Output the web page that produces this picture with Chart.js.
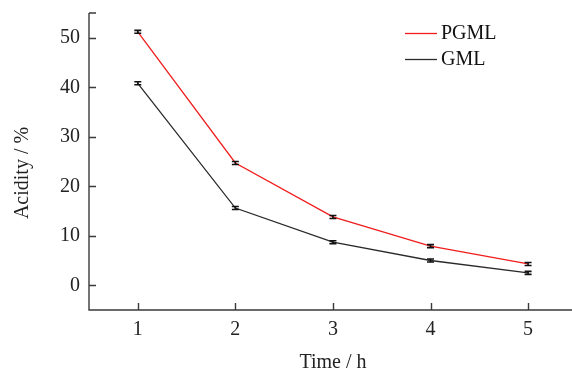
<!DOCTYPE html>
<html><head><meta charset="utf-8">
<script src="https://cdn.jsdelivr.net/npm/chart.js@4/dist/chart.umd.min.js"></script>
<style>html,body{margin:0;padding:0;background:#fff}#wrap{width:572px;height:371px}</style>
</head><body><div id="wrap"><canvas id="c" width="572" height="371"></canvas></div>
<script>
const categories = [1, 2, 3, 4, 5];
const pgml = [51.2, 24.7, 13.8, 7.9, 4.3];
const gml = [40.8, 15.6, 8.7, 5.0, 2.5];
const pgmlErr = [0.3, 0.3, 0.3, 0.3, 0.3];
const gmlErr = [0.3, 0.3, 0.3, 0.3, 0.3];
const yTicks = [0, 10, 20, 30, 40, 50];
const xTicks = [1, 2, 3, 4, 5];
const labels = ['PGML', 'GML'];
const xTitle = 'Time / h';
const yTitle = 'Acidity / %';

const FONT = '"Liberation Serif", "Times New Roman", serif';
const AXIS = '#3a3a3a';

const extras = {
  id: 'extras',
  afterDatasetsDraw(chart) {
    const ctx = chart.ctx, xs = chart.scales.x, ys = chart.scales.y;
    const errs = [pgmlErr, gmlErr];
    chart.data.datasets.forEach((ds, i) => {
      ctx.save();
      ctx.strokeStyle = '#111';
      ctx.lineWidth = 1.6;
      ds.data.forEach((p, j) => {
        const x = xs.getPixelForValue(p.x);
        const y1 = ys.getPixelForValue(p.y + errs[i][j]);
        const y2 = ys.getPixelForValue(p.y - errs[i][j]);
        ctx.beginPath();
        ctx.moveTo(x - 3.5, y1); ctx.lineTo(x + 3.5, y1);
        ctx.moveTo(x - 3.5, y2); ctx.lineTo(x + 3.5, y2);
        ctx.moveTo(x, y1); ctx.lineTo(x, y2);
        ctx.stroke();
      });
      ctx.restore();
    });
  },
  afterDraw(chart) {
    const ctx = chart.ctx, xs = chart.scales.x, ys = chart.scales.y;
    const L = xs.left, R = xs.right, T = ys.top, B = ys.bottom;
    ctx.save();
    ctx.strokeStyle = AXIS;
    ctx.lineWidth = 1.4;
    ctx.beginPath();
    ctx.moveTo(L, T); ctx.lineTo(L, B); ctx.lineTo(R, B);
    ctx.moveTo(L, T); ctx.lineTo(L + 7, T);
    yTicks.forEach(v => { const y = Math.round(ys.getPixelForValue(v)) + 0.5; ctx.moveTo(L, y); ctx.lineTo(L + 7, y); });
    xTicks.forEach(v => { const x = Math.round(xs.getPixelForValue(v)) + 0.5; ctx.moveTo(x, B); ctx.lineTo(x, B - 7); });
    ctx.stroke();
    ctx.fillStyle = '#222';
    ctx.font = '20px ' + FONT;
    ctx.textAlign = 'center';
    ctx.textBaseline = 'alphabetic';
    ctx.fillText(xTitle, 333, 368);
    ctx.save();
    ctx.translate(28, 173);
    ctx.rotate(-Math.PI / 2);
    ctx.fillText(yTitle, 0, 0);
    ctx.restore();
    const colors = chart.data.datasets.map(d => d.borderColor);
    const ly = [33, 59];
    ctx.font = '20px ' + FONT;
    ctx.textAlign = 'left';
    ctx.textBaseline = 'middle';
    chart.data.datasets.forEach((ds, i) => {
      ctx.strokeStyle = colors[i];
      ctx.lineWidth = 1.3;
      ctx.beginPath();
      ctx.moveTo(405, ly[i] + 0.5); ctx.lineTo(437, ly[i] + 0.5);
      ctx.stroke();
      ctx.fillStyle = '#111';
      ctx.fillText(ds.label, 441, ly[i] + 1);
    });
    ctx.restore();
  }
};

new Chart(document.getElementById('c'), {
  type: 'line',
  data: {
    datasets: [
      { label: labels[0], data: categories.map((c, i) => ({ x: c, y: pgml[i] })), borderColor: '#f01c1c', borderWidth: 1.3, pointRadius: 0, tension: 0, fill: false },
      { label: labels[1], data: categories.map((c, i) => ({ x: c, y: gml[i] })), borderColor: '#2a2a2a', borderWidth: 1.3, pointRadius: 0, tension: 0, fill: false }
    ]
  },
  options: {
    responsive: false,
    animation: false,
    devicePixelRatio: 1,
    layout: { padding: { top: 6, right: 0, left: 0, bottom: 0 } },
    plugins: { legend: { display: false }, tooltip: { enabled: false } },
    scales: {
      x: {
        type: 'linear', min: 0.5, max: 5.45,
        afterBuildTicks: s => { s.ticks = xTicks.map(v => ({ value: v })); },
        afterFit: s => { s.height = 61; },
        grid: { display: false }, border: { display: false },
        ticks: { color: '#222', font: { family: FONT, size: 20 }, padding: 0, maxRotation: 0 }
      },
      y: {
        type: 'linear', min: -5, max: 55,
        afterBuildTicks: s => { s.ticks = yTicks.map(v => ({ value: v })); },
        afterFit: s => { s.width = 89; },
        grid: { display: false }, border: { display: false },
        ticks: { color: '#222', font: { family: FONT, size: 20 }, padding: 1 }
      }
    }
  },
  plugins: [extras]
});
</script></body></html>
